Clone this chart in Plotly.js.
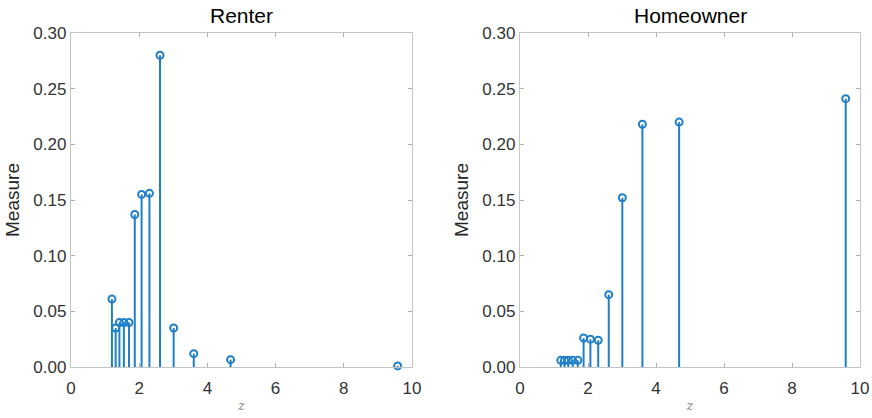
<!DOCTYPE html>
<html>
<head>
<meta charset="utf-8">
<script src="https://cdn.plot.ly/plotly-3.0.1.min.js"></script>
<style>html,body{margin:0;padding:0;background:#fff;}#chart{width:872px;height:418px;}</style>
</head>
<body>
<div id="chart"></div>
<script>
const z = [1.20, 1.31, 1.42, 1.55, 1.70, 1.87, 2.07, 2.30, 2.61, 3.01, 3.60, 4.68, 9.58];
const renter = [0.061, 0.035, 0.040, 0.040, 0.040, 0.137, 0.155, 0.156, 0.280, 0.035, 0.012, 0.0066, 0.001];
const homeowner = [0.006, 0.006, 0.006, 0.006, 0.006, 0.026, 0.025, 0.024, 0.065, 0.152, 0.218, 0.220, 0.241];
const panelTitles = ['Renter', 'Homeowner'];
const xTicks = [0, 2, 4, 6, 8, 10];
const yTicks = [0, 0.05, 0.10, 0.15, 0.20, 0.25, 0.30];

const blue = '#1f7fc9';
function stem(vals, xa, ya) {
  return {
    type: 'scatter', mode: 'markers', x: z, y: vals, xaxis: xa, yaxis: ya,
    marker: {symbol: 'circle-open', size: 7, color: blue, line: {width: 2, color: blue}},
    error_y: {type: 'data', symmetric: false, array: vals.map(() => 0), arrayminus: vals, width: 0, thickness: 2, color: blue},
    cliponaxis: false, showlegend: false, hoverinfo: 'x+y'
  };
}
const fontFam = 'Liberation Sans, Arial, sans-serif';
function xax(dom, anchor) {
  return {
    domain: dom, anchor: anchor, range: [0, 10], tickvals: xTicks, ticktext: xTicks.map(String),
    ticks: 'inside', ticklen: 4, tickcolor: '#b0b0b0', showline: true, linecolor: '#c4c4c4', linewidth: 1.2,
    mirror: 'ticks', showgrid: false, zeroline: false, ticklabelstandoff: 5,
    tickfont: {family: fontFam, size: 17, color: '#333333'},
    title: {text: 'z', font: {family: 'DejaVu Serif, serif', size: 13, color: '#808080', style: 'italic'}, standoff: 4}
  };
}
function yax(dom, anchor) {
  return {
    domain: dom, anchor: anchor, range: [0, 0.30], tickvals: yTicks, ticktext: yTicks.map(v => v.toFixed(2)),
    ticks: 'inside', ticklen: 4, tickcolor: '#b0b0b0', showline: true, linecolor: '#c4c4c4', linewidth: 1.2,
    mirror: 'ticks', showgrid: false, zeroline: false,
    tickfont: {family: fontFam, size: 17, color: '#333333'},
    title: {text: 'Measure', font: {family: fontFam, size: 19, color: '#262626'}, standoff: 8}
  };
}
const yDom = [1 - 367 / 418, 1 - 33 / 418];
const layout = {
  width: 872, height: 418, margin: {l: 0, r: 0, t: 0, b: 0},
  paper_bgcolor: '#fff', plot_bgcolor: '#fff',
  xaxis: xax([71 / 872, 412 / 872], 'y'),
  yaxis: yax(yDom, 'x'),
  xaxis2: xax([520 / 872, 860 / 872], 'y2'),
  yaxis2: yax(yDom, 'x2'),
  annotations: panelTitles.map((t, i) => ({
    text: t, xref: (i ? 'x2' : 'x') + ' domain', yref: 'paper', x: 0.5, y: 1 - 16 / 418,
    xanchor: 'center', yanchor: 'middle', showarrow: false,
    font: {family: fontFam, size: 21, color: '#000'}
  }))
};
Plotly.newPlot('chart', [stem(renter, 'x', 'y'), stem(homeowner, 'x2', 'y2')], layout, {displayModeBar: false, staticPlot: true});
</script>
</body>
</html>
